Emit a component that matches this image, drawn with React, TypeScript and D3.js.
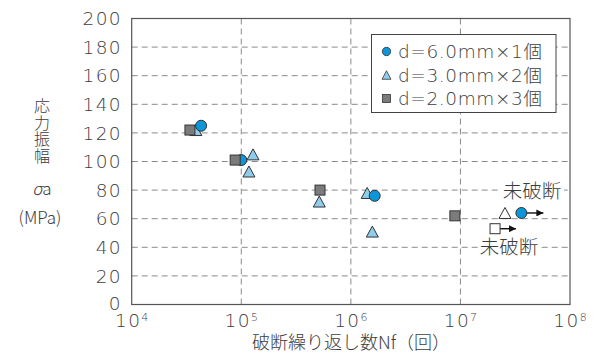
import React from "react";
import * as d3 from "d3";

// S-N data: cycles to failure (Nf) and stress amplitude σa (MPa)
const circleN = [43000, 100000, 1650000, 36000000];
const circleS = [125, 101, 76, 64];
const circleRunout = [false, false, false, true];

const triN = [38500, 128000, 117500, 515000, 1410000, 1570000, 25500000];
const triS = [122, 105, 93, 72, 78, 51, 64];
const triRunout = [false, false, false, false, false, false, true];

const sqN = [34000, 88000, 523000, 8900000, 20700000];
const sqS = [122, 101, 80, 62, 53];
const sqRunout = [false, false, false, false, true];

const yTicks = [0, 20, 40, 60, 80, 100, 120, 140, 160, 180, 200];
const xExponents = [4, 5, 6, 7, 8];

const legendLabels = ["d=6.0mm×1個", "d=3.0mm×2個", "d=2.0mm×3個"];
const yTitleMain = "応力振幅";

const W = 602;
const H = 360;
const M = { left: 131.7, right: 570, top: 18.5, bottom: 304.5 };

const FONT = "'DejaVu Sans', 'Noto Sans CJK JP', sans-serif";
const JP = "'Noto Sans CJK JP', sans-serif";
const TXT = "#3c3c3c";

const CIRCLE_FILL = "#0a96d8";
const TRI_FILL = "#8fcdec";
const SQ_FILL = "#7b7b7d";
const MARK_STROKE = "#333";

function triPath(cx: number, cy: number, w: number, h: number) {
  return `M${cx},${cy - h / 2}L${cx + w / 2},${cy + h / 2}L${cx - w / 2},${cy + h / 2}Z`;
}

export default function App() {
  const x = d3.scaleLog().domain([1e4, 1e8]).range([M.left, M.right]);
  const y = d3.scaleLinear().domain([0, 200]).range([M.bottom, M.top]);

  const arrowLen = 22;

  const circles = circleN.map((n, i) => ({ cx: x(n), cy: y(circleS[i]), runout: circleRunout[i] }));
  const tris = triN.map((n, i) => ({ cx: x(n), cy: y(triS[i]), runout: triRunout[i] }));
  const squares = sqN.map((n, i) => ({ cx: x(n), cy: y(sqS[i]), runout: sqRunout[i] }));

  const arrows = [
    ...circles.filter((c) => c.runout).map((c) => ({ x1: c.cx + 4, x2: c.cx + arrowLen, y: c.cy })),
    ...squares.filter((s) => s.runout).map((s) => ({ x1: s.cx + 4, x2: s.cx + arrowLen - 1, y: s.cy })),
  ];

  const legX = 371.5;
  const legY = 34.5;
  const legW = 184.5;
  const legH = 78;
  const rowY = [51.5, 75, 98.5];

  return (
    <svg
      width={W}
      height={H}
      viewBox={`0 0 ${W} ${H}`}
      style={{ position: "absolute", left: 0, top: 0, background: "#fff" }}
    >
      <defs>
        <marker id="ah" viewBox="0 0 10 10" refX="10" refY="5" markerWidth="11" markerHeight="7" markerUnits="userSpaceOnUse" orient="auto">
          <path d="M0,0L10,5L0,10Z" fill="#111" />
        </marker>
      </defs>

      {/* grid */}
      <g stroke="#8a8a8a" strokeWidth={1} strokeDasharray="6,4" fill="none">
        {yTicks.slice(1, -1).map((t) => (
          <line key={`gy${t}`} x1={M.left} x2={M.right} y1={y(t)} y2={y(t)} />
        ))}
        {xExponents.slice(1, -1).map((e) => (
          <line key={`gx${e}`} x1={x(Math.pow(10, e))} x2={x(Math.pow(10, e))} y1={M.top} y2={M.bottom} />
        ))}
      </g>

      {/* frame */}
      <rect x={M.left} y={M.top} width={M.right - M.left} height={M.bottom - M.top} fill="none" stroke="#555" strokeWidth={1.2} />

      {/* y tick labels */}
      <g fontFamily={FONT} fontSize={18.5} fill={TXT} fontWeight={200} textAnchor="end">
        {yTicks.map((t) => (
          <text key={`yt${t}`} x={122} y={y(t)} dy={t === 0 ? "0.3em" : "0.36em"} letterSpacing={1.4}>
            {t}
          </text>
        ))}
      </g>

      {/* x tick labels */}
      <g fontFamily={FONT} fontSize={18.5} fill={TXT} fontWeight={200} textAnchor="middle">
        {xExponents.map((e) => (
          <text key={`xt${e}`} x={x(Math.pow(10, e))} y={327}>
            <tspan letterSpacing={1.4}>10</tspan>
            <tspan fontSize={11} dy={-6.5}>{e}</tspan>
          </text>
        ))}
      </g>

      {/* axis titles */}
      <text x={351} y={349} fontFamily={JP} fontWeight={300} fontSize={18} fill={TXT} textAnchor="middle">
        破断繰り返し数Nf（回）
      </text>
      <g fontFamily={JP} fontWeight={300} fill={TXT} textAnchor="middle">
        <text x={42} y={131} fontSize={16} writingMode="vertical-rl" letterSpacing={0.5}>
          {yTitleMain}
        </text>
        <text x={42} y={189} dy="0.36em" fontSize={17}>
          <tspan fontStyle="italic">σ</tspan>a
        </text>
        <text x={40} y={218} dy="0.36em" fontSize={17}>
          (MPa)
        </text>
      </g>

      {/* arrows for run-out specimens */}
      <g stroke="#111" strokeWidth={1.4}>
        {arrows.map((a, i) => (
          <line key={`ar${i}`} x1={a.x1} x2={a.x2} y1={a.y} y2={a.y} markerEnd="url(#ah)" />
        ))}
      </g>

      {/* triangles */}
      <g stroke={MARK_STROKE} strokeWidth={1}>
        {tris.map((t, i) => (
          <path key={`t${i}`} d={triPath(t.cx, t.cy, 12, 11)} fill={t.runout ? "#fff" : TRI_FILL} />
        ))}
      </g>
      {/* circles */}
      <g stroke={MARK_STROKE} strokeWidth={1}>
        {circles.map((c, i) => (
          <circle key={`c${i}`} cx={c.cx} cy={c.cy} r={5.5} fill={CIRCLE_FILL} />
        ))}
      </g>
      {/* squares */}
      <g stroke={MARK_STROKE} strokeWidth={1}>
        {squares.map((s, i) => (
          <rect key={`s${i}`} x={s.cx - 5} y={s.cy - 5} width={10} height={10} fill={s.runout ? "#fff" : SQ_FILL} />
        ))}
      </g>

      {/* run-out labels */}
      <g fontFamily={JP} fontWeight={300} fontSize={19.5} fill={TXT} textAnchor="middle">
        <rect x={500} y={181} width={64} height={19} fill="#fff" />
        <text x={532} y={190.5} dy="0.36em">未破断</text>
        <rect x={478} y={237} width={62} height={19} fill="#fff" />
        <text x={509} y={246.5} dy="0.36em">未破断</text>
      </g>

      {/* legend */}
      <g>
        <rect x={legX} y={legY} width={legW} height={legH} fill="#fff" stroke="#444" strokeWidth={1} />
        <circle cx={386.5} cy={rowY[0]} r={4.2} fill={CIRCLE_FILL} stroke={MARK_STROKE} strokeWidth={0.8} />
        <path d={triPath(386.5, rowY[1], 9, 8.5)} fill={TRI_FILL} stroke={MARK_STROKE} strokeWidth={0.8} />
        <rect x={382.5} y={rowY[2] - 4} width={8} height={8} fill={SQ_FILL} stroke={MARK_STROKE} strokeWidth={0.8} />
        <g fontFamily={FONT} fontSize={18.5} fontWeight={200} fill={TXT}>
          {legendLabels.map((l, i) => (
            <text key={l} x={398} y={rowY[i]} dy="0.36em" letterSpacing={0.6}>
              {l}
            </text>
          ))}
        </g>
      </g>
    </svg>
  );
}
